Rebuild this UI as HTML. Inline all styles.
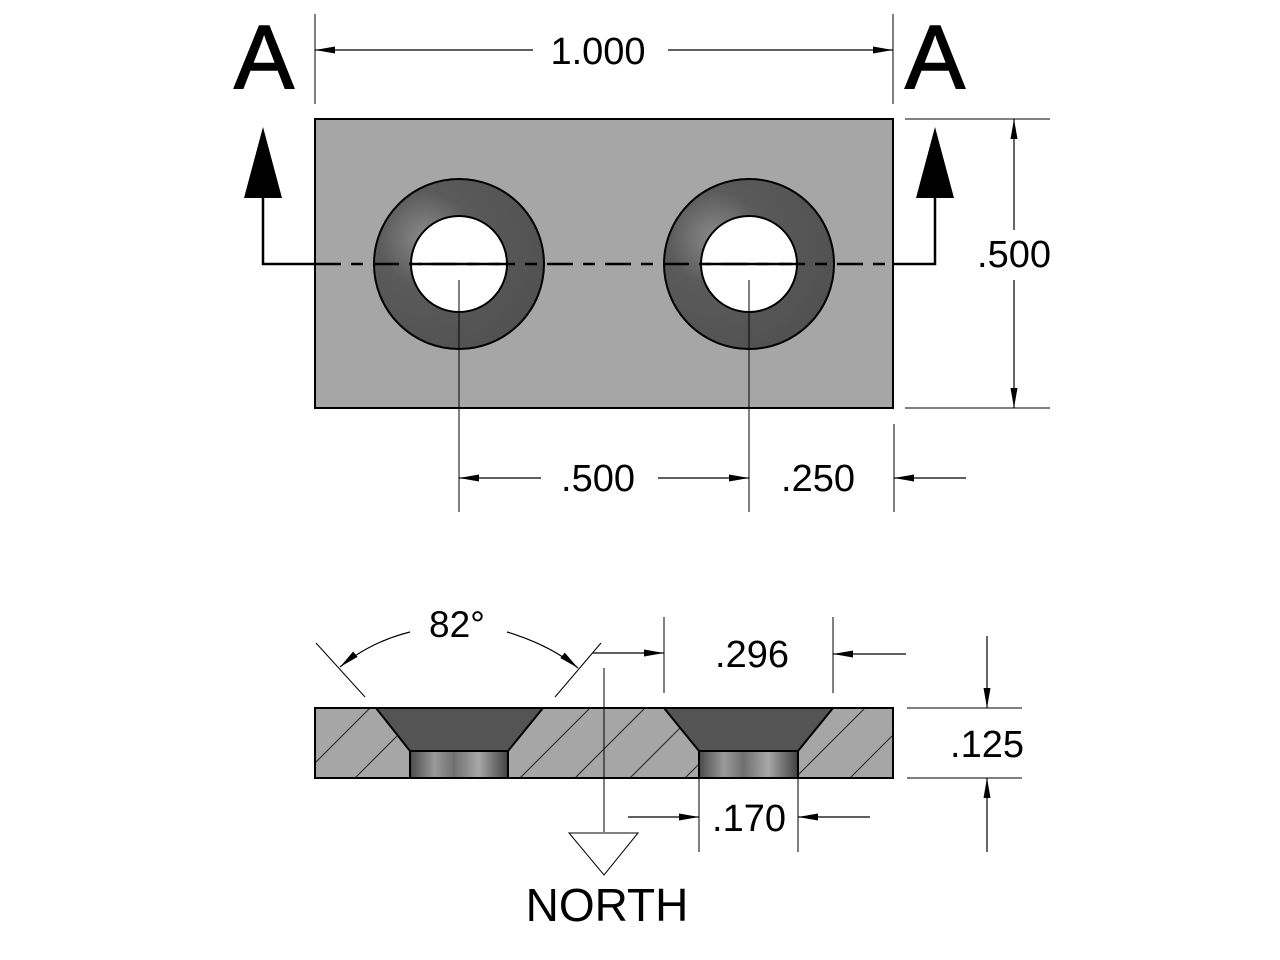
<!DOCTYPE html>
<html><head><meta charset="utf-8"><style>
html,body{margin:0;padding:0;background:#fff}
svg{display:block}
text{font-family:"Liberation Sans",sans-serif;fill:#000}
</style></head><body>
<svg width="1280" height="960" viewBox="0 0 1280 960" xmlns="http://www.w3.org/2000/svg">
<defs>
<radialGradient id="ring" cx="0.3" cy="0.35" r="0.8">
<stop offset="0" stop-color="#8a8a8a"/><stop offset="0.35" stop-color="#5a5a5a"/><stop offset="1" stop-color="#505050"/>
</radialGradient>
<linearGradient id="bore" x1="0" x2="1" y1="0" y2="0">
<stop offset="0" stop-color="#4a4a4a"/><stop offset="0.25" stop-color="#9a9a9a"/><stop offset="0.45" stop-color="#707070"/><stop offset="0.7" stop-color="#a8a8a8"/><stop offset="1" stop-color="#404040"/>
</linearGradient>
<pattern id="hatch" patternUnits="userSpaceOnUse" width="55" height="55" x="315" y="708">
<line x1="0" y1="55" x2="55" y2="0" stroke="#222" stroke-width="1"/>
<line x1="-10" y1="10" x2="10" y2="-10" stroke="#222" stroke-width="1"/>
<line x1="45" y1="65" x2="65" y2="45" stroke="#222" stroke-width="1"/>
</pattern>
<marker id="ar" viewBox="0 0 20 8" refX="20" refY="4" markerWidth="20" markerHeight="8" markerUnits="userSpaceOnUse" orient="auto">
<path d="M0,0.5 L20,4 L0,7.5 Z" fill="#000"/></marker>
</defs>

<rect x="315" y="119" width="578" height="289" fill="#a6a6a6" stroke="#000" stroke-width="2"/>
<circle cx="459" cy="264" r="85" fill="url(#ring)" stroke="#000" stroke-width="2"/>
<circle cx="459" cy="264" r="48" fill="#fff" stroke="#000" stroke-width="2"/>
<circle cx="749" cy="264" r="85" fill="url(#ring)" stroke="#000" stroke-width="2"/>
<circle cx="749" cy="264" r="48" fill="#fff" stroke="#000" stroke-width="2"/>

<polyline points="263,198 263,264 315,264" fill="none" stroke="#000" stroke-width="2.5"/>
<polyline points="893,264 935,264 935,198" fill="none" stroke="#000" stroke-width="2.5"/>
<line x1="315" y1="264" x2="893" y2="264" stroke="#000" stroke-width="2.5" stroke-dasharray="26,10,12,10"/>
<line x1="418" y1="264" x2="500" y2="264" stroke="#000" stroke-width="2.5"/>
<line x1="705" y1="264" x2="792" y2="264" stroke="#000" stroke-width="2.5"/>
<polygon points="263,127 244,198 282,198" fill="#000"/>
<polygon points="935,127 916,198 954,198" fill="#000"/>
<text x="264" y="88" font-size="90" text-anchor="middle" stroke="#000" stroke-width="1.5">A</text>
<text x="935" y="88" font-size="90" text-anchor="middle" stroke="#000" stroke-width="1.5">A</text>

<line x1="315" y1="14" x2="315" y2="104" stroke="#000" stroke-width="1"/>
<line x1="893" y1="14" x2="893" y2="104" stroke="#000" stroke-width="1"/>
<line x1="533" y1="50" x2="315" y2="50" stroke="#000" stroke-width="1.2" marker-end="url(#ar)"/>
<line x1="668" y1="50" x2="893" y2="50" stroke="#000" stroke-width="1.2" marker-end="url(#ar)"/>
<text x="598" y="64" font-size="38" text-anchor="middle">1.000</text>

<line x1="905" y1="119" x2="1050" y2="119" stroke="#000" stroke-width="1"/>
<line x1="905" y1="408" x2="1050" y2="408" stroke="#000" stroke-width="1"/>
<line x1="1014" y1="230" x2="1014" y2="119" stroke="#000" stroke-width="1.2" marker-end="url(#ar)"/>
<line x1="1014" y1="280" x2="1014" y2="408" stroke="#000" stroke-width="1.2" marker-end="url(#ar)"/>
<text x="1014" y="267" font-size="38" text-anchor="middle">.500</text>

<line x1="459" y1="280" x2="459" y2="512" stroke="#000" stroke-width="1"/>
<line x1="749" y1="280" x2="749" y2="512" stroke="#000" stroke-width="1"/>
<line x1="894" y1="424" x2="894" y2="512" stroke="#000" stroke-width="1"/>
<line x1="541" y1="478" x2="459" y2="478" stroke="#000" stroke-width="1.2" marker-end="url(#ar)"/>
<line x1="658" y1="478" x2="749" y2="478" stroke="#000" stroke-width="1.2" marker-end="url(#ar)"/>
<line x1="966" y1="478" x2="894" y2="478" stroke="#000" stroke-width="1.2" marker-end="url(#ar)"/>
<text x="598" y="491" font-size="38" text-anchor="middle">.500</text>
<text x="818" y="491" font-size="38" text-anchor="middle">.250</text>

<rect x="315" y="708" width="578" height="70" fill="#a6a6a6"/>
<rect x="315" y="708" width="578" height="70" fill="url(#hatch)"/>
<polygon points="376,708 543,708 508,751 410,751" fill="#545454" stroke="#000" stroke-width="2"/>
<rect x="410" y="751" width="98" height="27" fill="url(#bore)" stroke="#000" stroke-width="2"/>
<polygon points="664,708 833,708 798,751 699,751" fill="#545454" stroke="#000" stroke-width="2"/>
<rect x="699" y="751" width="99" height="27" fill="url(#bore)" stroke="#000" stroke-width="2"/>
<rect x="315" y="708" width="578" height="70" fill="none" stroke="#000" stroke-width="2"/>

<line x1="316" y1="643" x2="365" y2="697" stroke="#000" stroke-width="1"/>
<line x1="555" y1="697" x2="601" y2="643" stroke="#000" stroke-width="1"/>
<path d="M410,632 Q370,642 340,667" fill="none" stroke="#000" stroke-width="1.2" marker-end="url(#ar)"/>
<path d="M507,632 Q550,645 578,668" fill="none" stroke="#000" stroke-width="1.2" marker-end="url(#ar)"/>
<text x="457" y="637" font-size="37" text-anchor="middle">82°</text>

<line x1="664" y1="617" x2="664" y2="693" stroke="#000" stroke-width="1"/>
<line x1="833" y1="617" x2="833" y2="693" stroke="#000" stroke-width="1"/>
<line x1="593" y1="653" x2="664" y2="653" stroke="#000" stroke-width="1.2" marker-end="url(#ar)"/>
<line x1="906" y1="654" x2="833" y2="654" stroke="#000" stroke-width="1.2" marker-end="url(#ar)"/>
<text x="752" y="667" font-size="38" text-anchor="middle">.296</text>

<line x1="699" y1="778" x2="699" y2="852" stroke="#000" stroke-width="1"/>
<line x1="798" y1="778" x2="798" y2="852" stroke="#000" stroke-width="1"/>
<line x1="628" y1="817" x2="699" y2="817" stroke="#000" stroke-width="1.2" marker-end="url(#ar)"/>
<line x1="870" y1="817" x2="798" y2="817" stroke="#000" stroke-width="1.2" marker-end="url(#ar)"/>
<text x="749" y="831" font-size="38" text-anchor="middle">.170</text>

<line x1="907" y1="708" x2="1022" y2="708" stroke="#000" stroke-width="1"/>
<line x1="907" y1="778" x2="1022" y2="778" stroke="#000" stroke-width="1"/>
<line x1="987" y1="636" x2="987" y2="708" stroke="#000" stroke-width="1.2" marker-end="url(#ar)"/>
<line x1="987" y1="852" x2="987" y2="778" stroke="#000" stroke-width="1.2" marker-end="url(#ar)"/>
<text x="987" y="757" font-size="38" text-anchor="middle">.125</text>

<line x1="604" y1="668" x2="604" y2="832" stroke="#000" stroke-width="1"/>
<polygon points="569,833 638,833 604,875" fill="#fff" stroke="#000" stroke-width="1"/>
<text x="607" y="921" font-size="46" text-anchor="middle">NORTH</text>
</svg>
</body></html>
